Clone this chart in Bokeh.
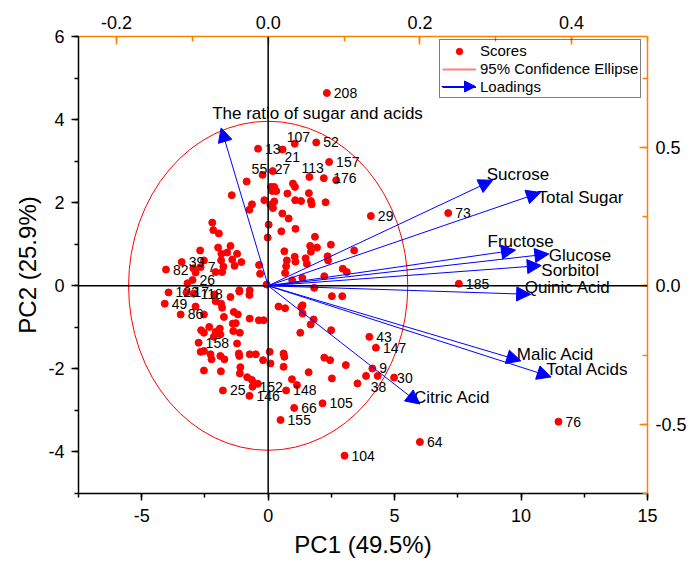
import math
from bokeh.plotting import figure
from bokeh.models import (Range1d, LinearAxis, SingleIntervalTicker, NumeralTickFormatter,
                          Span, Arrow, NormalHead, ColumnDataSource, Legend, LegendItem)
from bokeh.core.properties import value
from bokeh.embed import file_html
from bokeh.resources import INLINE

FONT = "Liberation Sans"
ORANGE = "#FF8000"
BLUE = "#0000FF"
NAN = float("nan")

# ---------------- data ----------------
# labelled score points
label_ids = ["208", "107", "52", "13", "21", "157", "55", "27", "113", "176",
             "29", "73", "185", "43", "147", "9", "38", "30", "104", "64",
             "76", "105", "155", "66", "148", "152", "146", "25", "158", "82",
             "39", "7", "26", "123", "17", "118", "49", "86"]
label_pc1 = [2.32, 1.05, 1.90, -0.40, 0.57, 2.41, -0.22, 0.18, 1.63, 2.69,
             4.06, 7.12, 7.54, 4.00, 4.26, 4.12, 4.33, 4.98, 3.02, 6.00,
             11.48, 2.15, 0.49, 1.03, 0.71, -0.62, -0.74, -1.79, -2.75, -4.04,
             -3.42, -2.67, -2.99, -3.94, -3.23, -2.95, -4.09, -3.46]
label_pc2 = [4.64, 3.42, 3.45, 3.30, 3.28, 2.98, 2.67, 2.76, 2.62, 2.54,
             1.68, 1.75, 0.05, -1.23, -1.49, -1.99, -2.17, -2.21, -4.09, -3.76,
             -3.27, -2.83, -3.23, -2.94, -2.52, -2.43, -2.65, -2.52, -1.37, 0.39,
             0.57, 0.45, 0.14, -0.16, -0.16, -0.19, -0.43, -0.69]

# unlabelled score points
other_pc1 = [2.20, -0.85, -1.44, 0.11, 0.24, 0.17, 0.32, 0.98, 1.06, 0.76,
             1.61, 1.07, 1.30, 1.69, 1.72, 2.27, -0.15, -0.64, 0.09, 0.24,
             0.19, -0.74, 0.56, 0.81, 0.02, 1.08, 0.52, -2.21, -2.17, -1.95,
             -0.02, 1.85, 1.66, 1.93, 1.69, 2.48, 3.40, 0.64, 1.05, 1.08,
             1.48, 1.53, 2.35, 2.37, 0.74, 0.71, 0.67, -0.36, -0.32, -0.06,
             0.95, 1.35, 1.82, 2.22, 2.95, 3.11,
             -1.98, -1.49, -1.85, -1.62, -1.23, -1.86, -1.42, -1.06, -2.69, -2.54,
             -1.77, -1.33, -2.96, -2.87, -2.08, -1.82, -3.19, -1.14, -0.73, -2.12,
             -1.49, -1.14, -0.74, -2.87, -2.54, -2.08, -1.86, -1.82, -1.36, -1.20,
             -1.28, -1.40, -1.75, -0.73, -0.37, -0.18, -2.33, -1.91, -2.65, -2.54,
             -2.08, -2.15, -1.38, -1.12, -1.89, -1.23, -2.67, -2.54, -2.28, -2.24,
             -1.89, -1.73, -1.16, -1.14, -0.73, -0.49, -0.20, 0.06, 0.09, 0.61,
             0.64, 0.61, -2.54, -1.87, -1.10, -1.12, -0.83, -0.64, -0.41, 0.94,
             1.14, 1.60, 2.22, 2.45, 2.52, 3.07, 3.53, 3.87, 0.41, 0.67,
             1.36, 1.31, 1.36, 1.80, 1.68, 1.27, 2.49, 2.52, 2.93]
other_pc2 = [2.59, 2.51, 2.18, 2.38, 2.38, 2.28, 2.28, 2.46, 2.38, 2.22,
             2.23, 2.06, 2.04, 2.04, 1.96, 2.01, 2.06, 1.96, 1.95, 2.03,
             1.87, 1.83, 1.74, 1.62, 1.47, 1.37, 1.31, 1.52, 1.34, 1.26,
             1.16, 1.18, 0.96, 0.92, 0.82, 0.99, 0.85, 0.83, 0.70, 0.58,
             0.66, 0.53, 0.71, 0.61, 0.61, 0.47, 0.31, 0.50, 0.29, 0.03,
             0.13, 0.19, -0.05, 0.23, 0.41, 0.33,
             0.92, 0.96, 0.77, 0.80, 0.77, 0.61, 0.63, 0.57, 0.85, 0.61,
             0.46, 0.48, 0.42, 0.32, 0.33, 0.33, 0.06, -0.11, -0.11, -0.21,
             -0.27, -0.14, -0.22, -0.50, -0.69, -0.37, -0.43, -0.53, -0.63, -0.69,
             -0.90, -0.91, -0.75, -0.79, -0.83, -0.83, -0.99, -1.03, -1.07, -1.13,
             -1.11, -1.23, -1.09, -1.13, -1.17, -1.39, -1.59, -1.57, -1.65, -1.77,
             -1.69, -1.77, -1.63, -1.69, -1.65, -1.65, -1.79, -1.59, -1.87, -1.63,
             -1.71, -1.95, -2.04, -2.06, -1.96, -2.11, -2.20, -2.27, -2.36, -2.25,
             -2.39, -2.08, -1.73, -1.79, -2.23, -1.91, -2.35, -2.17, -0.50, -0.54,
             -0.47, -0.51, -0.67, -0.81, -0.93, -1.13, -1.07, -0.25, -0.25]

# loadings (top / right axes)
loading_names = ["The ratio of sugar and acids", "Sucrose", "Total Sugar", "Fructose",
                 "Glucose", "Sorbitol", "Quinic Acid", "Malic Acid", "Total Acids",
                 "Citric Acid"]
loading_pc1 = [-0.062, 0.296, 0.359, 0.326, 0.370, 0.360, 0.346, 0.333, 0.373, 0.200]
loading_pc2 = [0.570, 0.381, 0.337, 0.129, 0.115, 0.073, -0.031, -0.271, -0.329, -0.427]

# 95% confidence ellipse
ellipse_cx, ellipse_cy = 0.0, 0.0
ellipse_w, ellipse_h = 11.04, 7.92

# ---------------- layout of labels (screen px) ----------------
score_label_nudge = {"107": (-8, -7), "21": (2, 7), "55": (-11, -6), "27": (2, -2),
                     "113": (-8, -9), "176": (-3, -2), "38": (-7, 11), "30": (3, 0)}
loading_label_nudge = [(-9, -14), (-6, -6), (-3, 5), (-28, -9), (0, 2), (0, 5),
                       (-6, -7), (-4, -6), (-5, -7), (-6, -7)]
LEGEND_LOC = (361, 395)   # legend box, px from frame bottom-left

# ---------------- figure ----------------
p = figure(width=689, height=560, x_range=Range1d(-7.5, 15), y_range=Range1d(-5, 6),
           output_backend="svg", toolbar_location=None,
           min_border_left=78, min_border_right=41, min_border_top=36, min_border_bottom=66)
p.extra_x_ranges = {"lx": Range1d(-0.25, 0.5)}
p.extra_y_ranges = {"ly": Range1d(-0.75, 0.9)}
p.grid.visible = False
p.outline_line_color = None
p.background_fill_color = "white"
p.border_fill_color = "white"

def style_axis(ax, color, inward):
    ax.axis_line_color = color
    ax.axis_line_width = 1.5
    ax.major_tick_line_color = color
    ax.minor_tick_line_color = color
    ax.major_tick_line_width = 1.5
    ax.minor_tick_line_width = 1.5
    if inward:
        ax.major_tick_in, ax.major_tick_out = 8, 0
        ax.minor_tick_in, ax.minor_tick_out = 5, 0
    else:
        ax.major_tick_in, ax.major_tick_out = 0, 7
        ax.minor_tick_in, ax.minor_tick_out = 0, 4
    ax.major_label_text_font = FONT
    ax.major_label_text_font_size = "18px"
    ax.major_label_text_color = "black"
    ax.axis_label_text_font = FONT
    ax.axis_label_text_font_size = "24px"
    ax.axis_label_text_font_style = "normal"
    ax.axis_label_text_color = "black"

xb = p.xaxis[0]
xb.ticker = SingleIntervalTicker(interval=5, num_minor_ticks=2)
xb.formatter = NumeralTickFormatter(format="0")
xb.axis_label = "PC1 (49.5%)"
style_axis(xb, "black", False)
xb.major_label_standoff = 8
xb.axis_label_standoff = 6

yl = p.yaxis[0]
yl.ticker = SingleIntervalTicker(interval=2, num_minor_ticks=2)
yl.formatter = NumeralTickFormatter(format="0")
yl.axis_label = "PC2 (25.9%)"
style_axis(yl, "black", False)
yl.major_label_standoff = 7
yl.axis_label_standoff = 4

xt = LinearAxis(x_range_name="lx", ticker=SingleIntervalTicker(interval=0.2, num_minor_ticks=2),
                formatter=NumeralTickFormatter(format="0.0"))
style_axis(xt, ORANGE, True)
xt.major_label_standoff = 8
p.add_layout(xt, "above")

yr = LinearAxis(y_range_name="ly", ticker=SingleIntervalTicker(interval=0.5, num_minor_ticks=2),
                formatter=NumeralTickFormatter(format="0.0"))
style_axis(yr, ORANGE, True)
yr.major_label_standoff = 8
p.add_layout(yr, "right")

# ellipse
p.ellipse(x=[ellipse_cx], y=[ellipse_cy], width=[ellipse_w], height=[ellipse_h],
          fill_color=None, line_color="#FF0000", line_width=1)

# zero lines
p.add_layout(Span(location=0, dimension="width", line_color="black", line_width=1.5))
p.add_layout(Span(location=0, dimension="height", line_color="black", line_width=1.5))

# scores
all_x = label_pc1 + other_pc1
all_y = label_pc2 + other_pc2
r_scores = p.scatter(all_x, all_y, size=7, marker="circle", fill_color="#FF0000",
                     line_color="#FF0000")

lab_src = ColumnDataSource(dict(
    x=label_pc1, y=label_pc2, text=label_ids,
    dx=[score_label_nudge.get(t, (7, 0))[0] for t in label_ids],
    dy=[score_label_nudge.get(t, (7, 0))[1] for t in label_ids]))
p.text(x="x", y="y", text="text", x_offset="dx", y_offset="dy", source=lab_src,
       text_font=value(FONT), text_font_size="14px", text_align="left",
       text_baseline="middle", text_color="black")

# loadings arrows
arr_src = ColumnDataSource(dict(x0=[0.0] * len(loading_pc1), y0=[0.0] * len(loading_pc2),
                                x1=loading_pc1, y1=loading_pc2))
p.add_layout(Arrow(end=NormalHead(size=14, fill_color=BLUE, line_color=BLUE, line_width=1),
                   x_start="x0", y_start="y0", x_end="x1", y_end="y1", source=arr_src,
                   line_color=BLUE, line_width=1, x_range_name="lx", y_range_name="ly"))
load_src = ColumnDataSource(dict(x=loading_pc1, y=loading_pc2, text=loading_names,
                                 dx=[n[0] for n in loading_label_nudge],
                                 dy=[n[1] for n in loading_label_nudge]))
p.text(x="x", y="y", text="text", x_offset="dx", y_offset="dy", source=load_src,
       x_range_name="lx", y_range_name="ly",
       text_font=value(FONT), text_font_size="17px", text_align="left",
       text_baseline="middle", text_color="black")

# arrow-head key for the "Loadings" legend entry (screen px relative to the frame)
key_src = ColumnDataSource(dict(x0=[LEGEND_LOC[0] + 2], y0=[LEGEND_LOC[1] + 12],
                                x1=[LEGEND_LOC[0] + 36], y1=[LEGEND_LOC[1] + 12]))
p.add_layout(Arrow(end=NormalHead(size=11, fill_color=BLUE, line_color=BLUE, line_width=1),
                   x_start="x0", y_start="y0", x_end="x1", y_end="y1", source=key_src,
                   start_units="screen", end_units="screen",
                   line_color=BLUE, line_width=1))

# legend proxies (no visible data)
r_ell_leg = p.line(x=[NAN, NAN], y=[NAN, NAN], line_color="#FF8080", line_width=2)
r_load_line = p.line(x=[NAN, NAN], y=[NAN, NAN], line_color=BLUE, line_width=1)

legend = Legend(items=[LegendItem(label="Scores", renderers=[r_scores]),
                       LegendItem(label="95% Confidence Ellipse", renderers=[r_ell_leg]),
                       LegendItem(label="Loadings", renderers=[r_load_line])],
                location=LEGEND_LOC, margin=0, padding=2, spacing=1,
                glyph_width=34, glyph_height=16, label_height=16, label_standoff=4,
                border_line_color="black", border_line_width=1,
                background_fill_color="white", background_fill_alpha=0.0,
                label_text_font=FONT, label_text_font_size="15px", label_text_color="black")
p.add_layout(legend)

open("out.html", "w").write(file_html(p, INLINE))
